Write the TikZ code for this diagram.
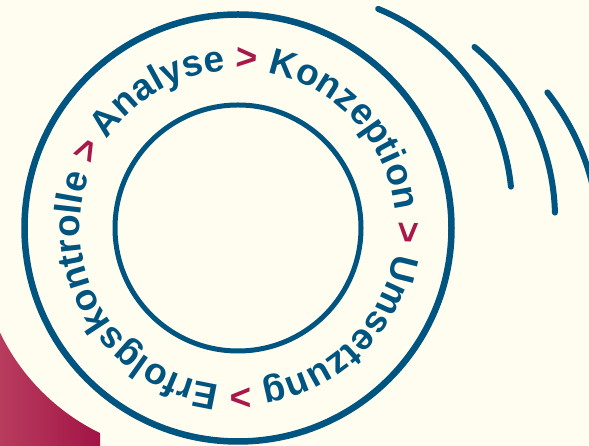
\documentclass[tikz,border=0pt]{standalone}
\usepackage{fontspec}
\setmainfont{Liberation Sans}
\usetikzlibrary{decorations.text}
\definecolor{bg}{RGB}{254,253,240}
\definecolor{bl}{RGB}{0,84,128}
\definecolor{rd}{RGB}{168,24,74}
\definecolor{rl}{RGB}{184,60,94}
\definecolor{rr}{RGB}{162,20,70}
\newcommand\ringblue{\bfseries\fontsize{37}{37}\selectfont\color{bl}}
\newcommand\ringred{\bfseries\fontsize{37}{37}\selectfont\color{rd}}
\begin{document}
\begin{tikzpicture}[x=1pt,y=1pt,
  ring/.style={draw=bl},
  wave/.style={draw=bl,line width=6pt,line cap=round}]
\useasboundingbox (0,0) rectangle (589,446);
\fill[bg] (0,0) rectangle (589,446);
\coordinate (c) at (238,218);
% red corner shape
\shade[left color=rl,right color=rr] (0,0) -- (100,0) -- (100,12.9)
  arc[start angle=244.03, end angle=205.7, radius=216] -- cycle;
% rings
\draw[ring,line width=6.5pt] (c) circle[radius=213.5];
\draw[ring,line width=5pt] (c) circle[radius=123];
% waves
\coordinate (w1) at (297,238);
\coordinate (w2) at (333,228);
\coordinate (w3) at (358.5,204.4);
\draw[wave] (w1) ++(67.85:215) arc[start angle=67.85, end angle=5.7, radius=215];
\draw[wave] (w2) ++(50.4:222) arc[start angle=50.4, end angle=1.4, radius=222];
\draw[wave] (w3) ++(38.3:240.7) arc[start angle=38.3, end angle=8, radius=240.7];
% text on ring
\path[decorate, decoration={text along path, text align=left,
  text={|\ringblue|Analyse |\ringred|> |\ringblue|Konzeption |\ringred|> |\ringblue|Umsetzung |\ringred|> |\ringblue|Erfolgskontrolle |\ringred|>}}]
  (c) ++(146:158) arc[start angle=146, end angle=-214, radius=158];
\end{tikzpicture}
\end{document}
